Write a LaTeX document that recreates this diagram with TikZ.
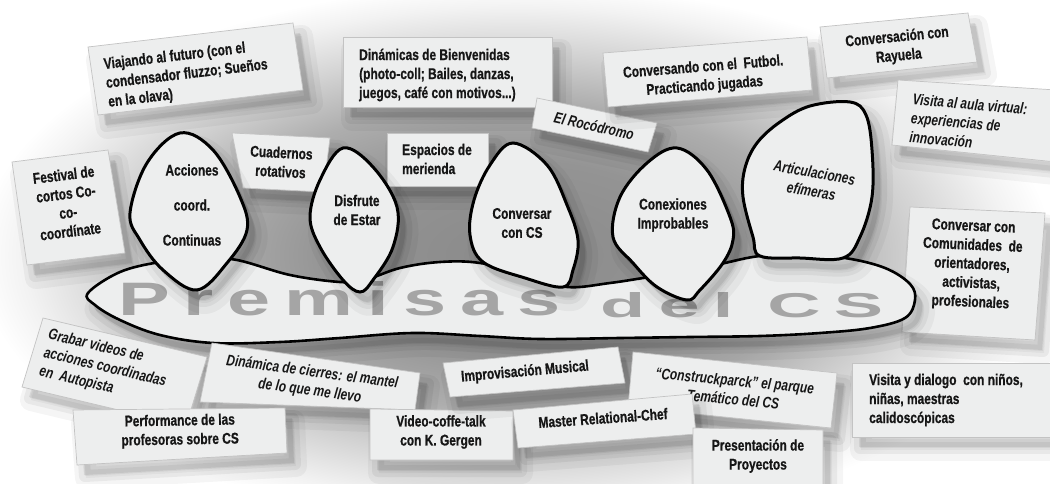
\documentclass[tikz,border=0pt]{standalone}
\usepackage{fontspec}
\setmainfont{Liberation Sans}
\newfontfamily\cardfont[FakeStretch=0.77, BoldFeatures={FakeBold=0.7}]{Liberation Sans}
\newfontfamily\premfont[LetterSpace=18]{Liberation Sans}
\definecolor{cardfill}{RGB}{237,238,238}
\definecolor{cardline}{RGB}{195,195,195}
\definecolor{premgray}{RGB}{165,165,165}
\definecolor{inkc}{RGB}{22,22,22}
\pgfdeclareradialshading{glow}{\pgfpoint{0bp}{0bp}}{color(0bp)=(black!46); color(8bp)=(black!42); color(13bp)=(black!32); color(17bp)=(black!18); color(21bp)=(black!5); color(23bp)=(white); color(50bp)=(white)}
\newcommand\softshadow[1]{%
  \path[fill=black, draw=black, line join=round, opacity=0.04, line width=22pt, shift={(9,13)}] #1;
  \path[fill=black, draw=black, line join=round, opacity=0.05, line width=12pt, shift={(8,11)}] #1;
  \path[fill=black, opacity=0.07, shift={(7,10)}] #1;}
\newcommand\card[1]{\softshadow{#1}\path[fill=cardfill, draw=cardline, line width=0.7pt] #1;}
\newcommand\egg[1]{\softshadow{plot[smooth cycle, tension=0.6] coordinates {#1}}%
  \path[fill=cardfill, draw=black, line width=3pt] plot[smooth cycle, tension=0.6] coordinates {#1};}
\begin{document}
\begin{tikzpicture}[x=1pt,y=-1pt,
  lbl/.style={font={\cardfont\bfseries\fontsize{15.5}{19}\selectfont}, text=inkc, inner sep=0pt, align=center},
  lblL/.style={lbl, align=left},
  lblI/.style={lbl, font={\cardfont\bfseries\itshape\fontsize{15.5}{19}\selectfont}},
  lblIL/.style={lblI, align=left}]
\useasboundingbox (0,0) rectangle (1050,484);
\begin{scope}
\clip (0,0) rectangle (1050,484);
\fill[white] (0,0) rectangle (1050,484);
\fill[shading=glow] (-70,-40) rectangle (1100,550);
\end{scope}

% ---- top boxes
\card{(88,47) -- (293,23) -- (303,90) -- (98,115) -- cycle}
\node[lblL, rotate=6.7, anchor=west] (viaje) at (106,84) {Viajando al futuro (con el\\condensador fluzzo; Sueños\\en la olava)};
\card{(343,37) -- (552,37) -- (552,107) -- (343,107) -- cycle}
\node[lblL, anchor=west] (bienv) at (359,75) {Dinámicas de Bienvenidas\\(photo-coll; Bailes, danzas,\\juegos, café con motivos...)};
\card{(537,98) -- (657,123) -- (648,152) -- (532,128) -- cycle}
\node[lblI, rotate=-13] (roco) at (594,126) {El Rocódromo};
\card{(603,53) -- (807,37) -- (812,90) -- (608,107) -- cycle}
\node[lbl, rotate=4.5] (futbol) at (704,77) {Conversando con el\ \ Futbol.\\Practicando jugadas};
\card{(820,27) -- (968,13) -- (977,62) -- (827,78) -- cycle}
\node[lbl, rotate=5.5] (rayuela) at (898,47) {Conversación con\\Rayuela};
\card{(898,80) -- (1056,90) -- (1056,162) -- (892,145) -- cycle}
\node[lblIL, rotate=-5, anchor=west] (aula) at (911,118) {Visita al aula virtual:\\experiencias de\\innovación};
\card{(387,133) -- (488,133) -- (488,186) -- (387,186) -- cycle}
\node[lblL, anchor=west] (merienda) at (402,159) {Espacios de\\merienda};
\card{(232,133) -- (330,138) -- (323,192) -- (243,188) -- cycle}
\node[lbl, rotate=-3] (cuadernos) at (281,162) {Cuadernos\\rotativos};
\card{(12,162) -- (108,150) -- (125,253) -- (27,265) -- cycle}
\node[lbl, rotate=7] (festival) at (67,203) {Festival de\\cortos Co-\\co-\\coordínate};
\card{(910,207) -- (1045,213) -- (1035,340) -- (902,332) -- cycle}
\node[lbl, rotate=-2.5] (comunidades) at (972,265) {Conversar con\\Comunidades\ \ de\\orientadores,\\activistas,\\profesionales};

% ---- central blob
\softshadow{plot[smooth cycle, tension=0.6] coordinates {(88,293) (120,272) (160,262) (200,258) (237,260) (290,275) (340,282) (365,280) (400,268) (440,262) (480,263) (530,275) (567,287) (610,283) (650,277) (690,272) (725,263) (760,256) (800,255) (845,258) (885,268) (910,284) (915,300) (905,318) (870,328) (820,333) (760,336) (690,337) (620,338) (540,339) (480,336) (413,333) (340,338) (280,342) (213,343) (160,335) (120,320) (95,305)}}
\path[fill=cardfill, draw=black, line width=2.6pt] plot[smooth cycle, tension=0.6] coordinates {(88,293) (120,272) (160,262) (200,258) (237,260) (290,275) (340,282) (365,280) (400,268) (440,262) (480,263) (530,275) (567,287) (610,283) (650,277) (690,272) (725,263) (760,256) (800,255) (845,258) (885,268) (910,284) (915,300) (905,318) (870,328) (820,333) (760,336) (690,337) (620,338) (540,339) (480,336) (413,333) (340,338) (280,342) (213,343) (160,335) (120,320) (95,305)};
\node[inner sep=0pt, anchor=south west, text=premgray] (prem1) at (118,316) {\resizebox{442pt}{34pt}{\premfont\bfseries Premisas}};
\node[inner sep=0pt, anchor=south west, text=premgray] (prem2) at (600,318) {\resizebox{283pt}{25pt}{\premfont\bfseries del CS}};

% ---- eggs
\egg{(180,133) (213,150) (240,197) (247,230) (227,263) (197,290) (163,270) (140,240) (130,213) (147,163)}
\node[lbl, font={\cardfont\bfseries\fontsize{15.5}{35}\selectfont}] (acciones) at (192,205) {Acciones\\coord.\\Continuas};
\egg{(343,148) (373,167) (397,207) (393,247) (373,280) (360,292) (343,280) (320,247) (310,217) (320,180)}
\node[lbl] (disfrute) at (357,210) {Disfrute\\de Estar};
\egg{(513,143) (547,165) (567,205) (578,240) (573,270) (563,287) (525,278) (483,262) (470,235) (474,200) (490,165)}
\node[lbl] (conversar) at (522,223) {Conversar\\con CS};
\egg{(677,148) (707,170) (730,217) (733,240) (723,263) (700,290) (687,300) (657,287) (633,263) (613,237) (620,197) (647,163)}
\node[lbl] (conexiones) at (673,215) {Conexiones\\Improbables};
\egg{(850,102) (866,115) (872,150) (872,197) (860,237) (843,258) (800,258) (760,256) (753,237) (743,197) (745,168) (757,143) (780,122) (810,106)}
\node[lblI, rotate=-10] (articul) at (813,182) {Articulaciones\\efímeras};

% ---- bottom boxes
\card{(43,318) -- (207,357) -- (186,426) -- (22,387) -- cycle}
\node[lblIL, rotate=-13.4] (grabar) at (105,368) {Grabar videos de\\acciones coordinadas\\en\ \ Autopista};
\card{(212,343) -- (420,373) -- (415,410) -- (200,402) -- cycle}
\node[lblI, rotate=-7.5] (cierres) at (311,382) {Dinámica de cierres: el mantel\\de lo que me llevo};
\card{(73,410) -- (285,408) -- (287,453) -- (77,465) -- cycle}
\node[lbl, rotate=1] (performance) at (180,431) {Performance de las\\profesoras sobre CS};
\card{(370,409) -- (513,411) -- (513,460) -- (370,460) -- cycle}
\node[lbl] (video) at (441,432) {Video-coffe-talk\\con K. Gergen};
\card{(443,363) -- (618,347) -- (625,383) -- (450,397) -- cycle}
\node[lbl, rotate=5] (improv) at (525,372) {Improvisación Musical};
\card{(633,352) -- (837,373) -- (831,428) -- (628,407) -- cycle}
\node[lblI, rotate=-5.5] (construck) at (734,390) {“Construckparck” el parque\\Temático del CS};
\card{(513,410) -- (692,394) -- (696,434) -- (518,448) -- cycle}
\node[lbl, rotate=4] (master) at (603,418) {Master Relational-Chef};
\card{(693,428) -- (823,430) -- (823,490) -- (693,490) -- cycle}
\node[lbl] (proyectos) at (758,456) {Presentación de\\Proyectos};
\card{(852,363) -- (1056,363) -- (1056,437) -- (852,437) -- cycle}
\node[lblL, anchor=west] (ninos) at (869,400) {Visita y dialogo\ \ con niños,\\niñas, maestras\\calidoscópicas};
\end{tikzpicture}
\end{document}
